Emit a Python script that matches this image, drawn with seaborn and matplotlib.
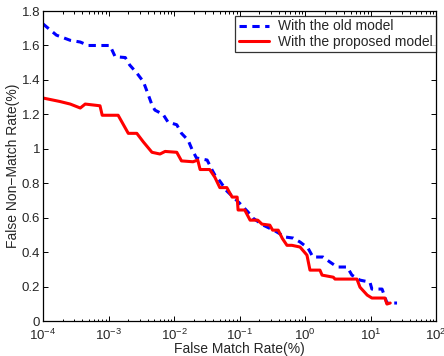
import numpy as np
import pandas as pd
import matplotlib
matplotlib.use("Agg")
import matplotlib.pyplot as plt
import matplotlib.ticker as mticker
import seaborn as sns

# DET curve values (FMR in %, FNMR in %)
old_fmr = [1e-4, 1.6e-4, 2.6e-4, 3.7e-4, 4.9e-4, 1.05e-3, 1.26e-3, 1.8e-3, 2.1e-3,
           2.7e-3, 3.4e-3, 3.9e-3, 4.6e-3, 5.1e-3, 6.8e-3, 8.1e-3, 1.1e-2, 1.3e-2,
           1.64e-2, 1.9e-2, 2.2e-2, 3.2e-2, 3.8e-2, 4.2e-2, 5.0e-2, 6.4e-2, 0.10,
           0.135, 0.16, 0.23, 0.35, 0.50, 0.66, 0.84, 1.11, 1.32, 1.88, 2.4, 3.1,
           4.4, 5.2, 6.9, 9.8, 10.5, 15, 16.6, 17.8, 25.4]
old_fnmr = [1.725, 1.66, 1.63, 1.62, 1.60, 1.60, 1.535, 1.53, 1.487,
            1.44, 1.39, 1.33, 1.255, 1.225, 1.20, 1.155, 1.14, 1.09,
            1.05, 0.993, 0.947, 0.935, 0.878, 0.848, 0.813, 0.755, 0.685,
            0.633, 0.598, 0.557, 0.523, 0.488, 0.482, 0.459, 0.424, 0.372, 0.372, 0.343, 0.314,
            0.314, 0.267, 0.238, 0.226, 0.186, 0.186, 0.139, 0.105, 0.105]

new_fmr = [1e-4, 1.8e-4, 2.6e-4, 3.7e-4, 4.4e-4, 7.4e-4, 8.0e-4, 1.4e-3, 2.0e-3,
           2.7e-3, 3.4e-3, 4.6e-3, 6.1e-3, 7.3e-3, 1.1e-2, 1.3e-2, 1.95e-2, 2.3e-2,
           2.5e-2, 3.5e-2, 4.2e-2, 5.0e-2, 6.4e-2, 7.7e-2, 9.2e-2, 9.5e-2, 0.12,
           0.145, 0.19, 0.22, 0.29, 0.32, 0.39, 0.45, 0.53, 0.63, 0.84, 1.07, 1.19,
           1.69, 1.82, 2.7, 2.87, 6.2, 6.9, 8.9, 10.5, 16.6, 17.8, 20]
new_fnmr = [1.295, 1.275, 1.26, 1.237, 1.26, 1.25, 1.195, 1.195, 1.09,
            1.09, 1.04, 0.98, 0.97, 0.985, 0.98, 0.93, 0.925, 0.935,
            0.88, 0.88, 0.835, 0.775, 0.775, 0.72, 0.72, 0.645, 0.645,
            0.586, 0.586, 0.563, 0.557, 0.528, 0.528, 0.48, 0.44, 0.44, 0.43, 0.383, 0.296,
            0.296, 0.267, 0.255, 0.244, 0.244, 0.197, 0.151, 0.134, 0.134, 0.099, 0.105]

series_names = ["With the old model", "With the proposed model"]

df = pd.concat([
    pd.DataFrame({"fmr": old_fmr, "fnmr": old_fnmr, "model": series_names[0]}),
    pd.DataFrame({"fmr": new_fmr, "fnmr": new_fnmr, "model": series_names[1]}),
], ignore_index=True)

sns.set_style("ticks")
plt.rcParams["font.family"] = ["Liberation Sans", "DejaVu Sans"]
plt.rcParams["xtick.direction"] = "in"
plt.rcParams["ytick.direction"] = "in"

fig = plt.figure(figsize=(4.44, 3.56), dpi=100)
ax = fig.add_axes([0.097, 0.098, 0.885, 0.871])

sns.lineplot(data=df, x="fmr", y="fnmr", hue="model", style="model",
             palette={series_names[0]: "#0000ff", series_names[1]: "#ff0000"},
             dashes={series_names[0]: (2.4, 1.8), series_names[1]: ""},
             sort=False, estimator=None, linewidth=2.2, ax=ax)

ax.set_xscale("log")
ax.set_xlim(1e-4, 1e2)
ax.set_ylim(0, 1.8)
ax.set_yticks(np.arange(0, 1.81, 0.2))
ax.yaxis.set_major_formatter(mticker.FuncFormatter(lambda v, p: "%g" % round(v, 1)))
ax.xaxis.set_major_locator(mticker.LogLocator(base=10, numticks=10))
ax.xaxis.set_minor_locator(mticker.LogLocator(base=10, subs=np.arange(2, 10), numticks=10))

ax.tick_params(which="both", top=True, right=True, labelsize=9.5, color="black", width=0.7)
ax.tick_params(which="major", length=3.5)
ax.tick_params(axis="y", which="major", pad=2)
ax.tick_params(axis="x", which="major", pad=5)
ax.tick_params(which="minor", length=1.8)
for sp in ax.spines.values():
    sp.set_color("black")
    sp.set_linewidth(0.9)

ax.set_xlabel("False Match Rate(%)", fontsize=10, labelpad=-1)
ax.set_ylabel("False Non\u2212Match Rate(%)", fontsize=10, labelpad=1)

leg = ax.legend(loc="upper right", bbox_to_anchor=(1.0, 0.984), fontsize=10,
                frameon=True, fancybox=False, edgecolor="black", borderpad=0.25,
                handlelength=2.2, handletextpad=0.6, labelspacing=0.1,
                borderaxespad=0)
leg.get_frame().set_linewidth(0.9)
leg.set_title(None)

fig.savefig("out.png", dpi=100)
